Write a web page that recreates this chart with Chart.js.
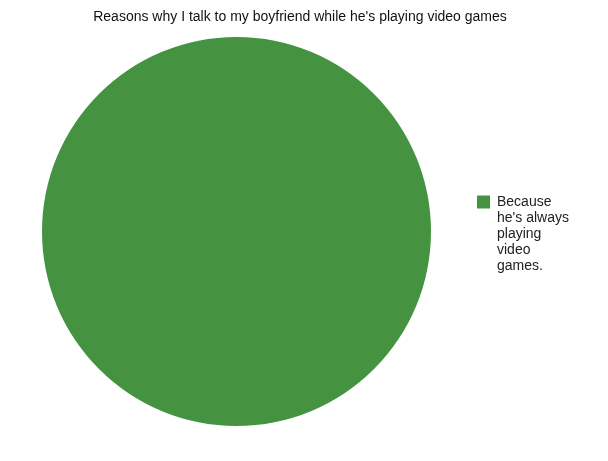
<!DOCTYPE html>
<html>
<head>
<meta charset="utf-8">
<script src="https://cdn.jsdelivr.net/npm/chart.js@4"></script>
<style>
  html, body { margin: 0; padding: 0; background: #ffffff; }
  #wrap { width: 608px; height: 461px; position: relative; }
</style>
</head>
<body>
<div id="wrap"><canvas id="pieChart" width="608" height="461"></canvas></div>
<script>
// donnees
const chartTitle = "Reasons why I talk to my boyfriend while he's playing video games";
const categories = ["Because he's always playing video games."];
const legendLines = [["Because", "he's always", "playing", "video", "games."]];
const values = [100];
const colors = ["#459341"];

// titre + legende dessines a la main (legende sur plusieurs lignes)
const textPlugin = {
    id: "textPlugin",
    afterDraw(chart) {
        const ctx = chart.ctx;
        ctx.save();
        ctx.font = "14px 'Liberation Sans', Arial, sans-serif";
        ctx.fillStyle = "#111111";
        ctx.textAlign = "center";
        ctx.textBaseline = "middle";
        ctx.fillText(chartTitle, 300, 17);

        const meta = chart.getDatasetMeta(0);
        let y = 202;
        categories.forEach((c, i) => {
            if (!chart.getDataVisibility(i)) return;
            ctx.fillStyle = meta.data[i].options.backgroundColor;
            ctx.fillRect(477, y - 6.5, 13, 13);
            ctx.fillStyle = "#222222";
            ctx.textAlign = "left";
            legendLines[i].forEach(line => {
                ctx.fillText(line, 497, y);
                y += 16;
            });
        });
        ctx.restore();
    }
};

new Chart(document.getElementById("pieChart").getContext("2d"), {
    type: "pie",
    data: {
        labels: categories,
        datasets: [{
            data: values,
            backgroundColor: colors,
            borderWidth: 0
        }]
    },
    options: {
        responsive: false,
        animation: false,
        layout: { padding: { left: 42, right: 177, top: 37, bottom: 35 } },
        plugins: {
            legend: { display: false },
            title: { display: false },
            tooltip: { enabled: false }
        }
    },
    plugins: [textPlugin]
});
</script>
</body>
</html>
